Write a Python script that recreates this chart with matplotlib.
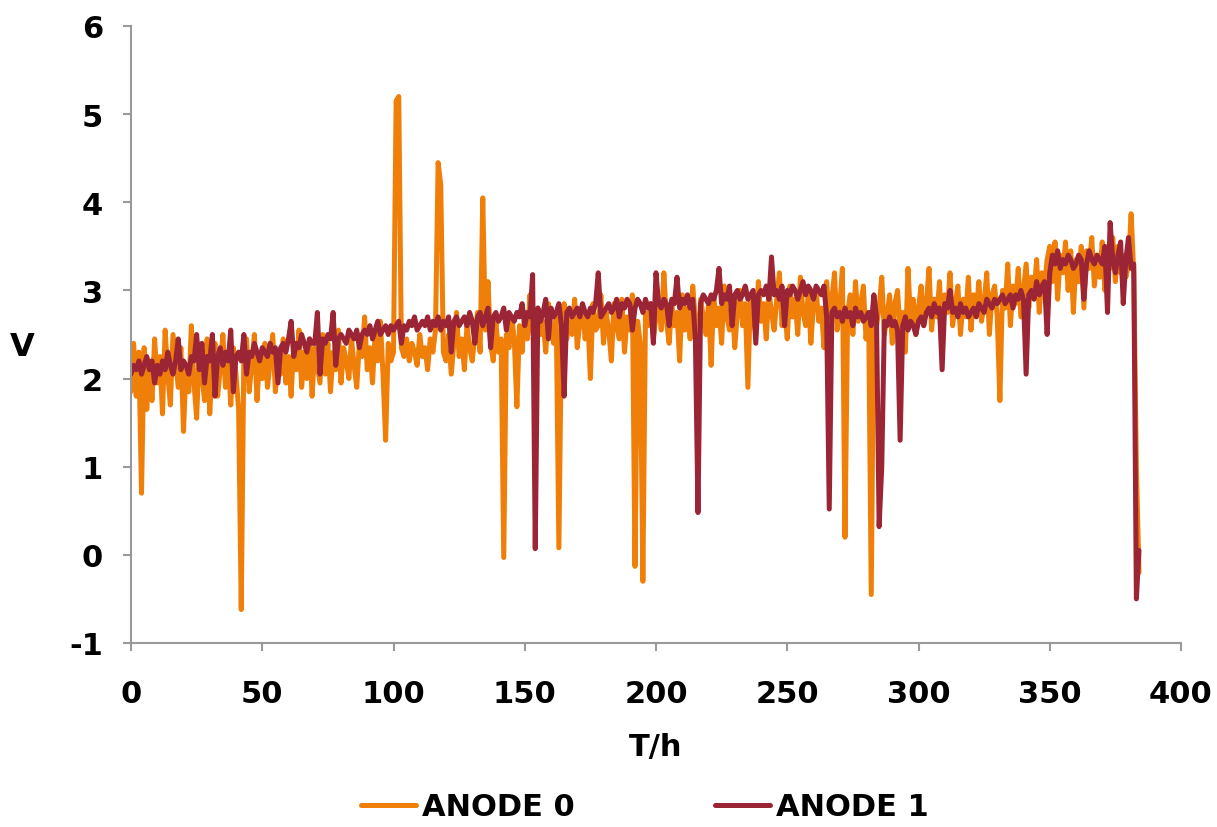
import numpy as np
import matplotlib.pyplot as plt

# ANODE 0 voltage, one reading per hour (0 .. 384 h)
anode0 = [
    1.85, 2.40, 1.80, 2.30, 0.70, 2.35, 1.65, 2.20, 1.75, 2.45,
    1.95, 2.25, 1.60, 2.55, 2.05, 1.70, 2.50, 2.20, 1.90, 2.35,
    1.40, 2.15, 1.85, 2.60, 1.95, 1.55, 2.30, 2.05, 1.75, 2.45,
    1.60, 2.20, 2.40, 1.80, 2.10, 2.50, 1.90, 2.25, 1.70, 2.35,
    2.05, 1.65, -0.62, 2.30, 2.45, 1.85, 2.15, 2.50, 1.75, 2.25,
    2.00, 2.40, 1.90, 2.20, 2.50, 1.85, 2.30, 2.05, 2.45, 1.95,
    2.25, 1.80, 2.40, 2.10, 2.55, 1.90, 2.30, 2.00, 2.45, 1.80,
    2.35, 2.15, 1.95, 2.50, 2.05, 2.40, 1.85, 2.30, 2.10, 2.55,
    1.95, 2.35, 2.20, 2.00, 2.45, 2.15, 1.90, 2.40, 2.25, 2.70,
    2.10, 2.35, 1.95, 2.50, 2.20, 2.65, 2.05, 1.30, 2.40, 2.20,
    2.30, 5.15, 5.20, 2.35, 2.25, 2.45, 2.20, 2.40, 2.30, 2.15,
    2.50, 2.25, 2.35, 2.10, 2.45, 2.30, 2.55, 4.45, 4.20, 2.30,
    2.20, 2.50, 2.05, 2.40, 2.75, 2.25, 2.45, 2.10, 2.60, 2.35,
    2.20, 2.50, 2.75, 2.30, 4.05, 2.55, 3.10, 2.40, 2.20, 2.65,
    2.30, 2.45, -0.03, 2.50, 2.35, 2.70, 2.45, 1.68, 2.60, 2.30,
    2.75, 2.45, 2.95, 2.55, 2.35, 2.80, 2.50, 2.65, 2.30, 2.85,
    2.55, 2.40, 2.70, 0.08, 2.60, 2.85, 2.45, 2.75, 2.50, 2.90,
    2.35, 2.65, 2.80, 2.45, 2.70, 2.00, 2.85, 2.55, 2.60, 2.95,
    2.40, 2.75, 2.55, 2.20, 2.85, 2.60, 2.45, 2.90, 2.30, 2.70,
    2.55, 2.95, -0.13, 2.65, 2.40, -0.30, 2.75, 2.60, 2.85, 2.45,
    2.70, 2.90, 2.55, 3.20, 2.65, 2.40, 2.85, 2.60, 2.75, 2.20,
    2.95, 2.55, 2.80, 2.45, 3.05, 2.65, 2.35, 2.90, 2.70, 2.50,
    2.85, 2.15, 2.95, 2.60, 2.80, 2.40, 3.05, 2.70, 2.55, 2.90,
    2.35, 2.75, 3.00, 2.60, 2.85, 1.90, 2.95, 2.70, 2.50, 3.10,
    2.65, 2.85, 2.45, 3.00, 2.75, 2.55, 2.90, 3.20, 2.60, 2.80,
    2.45, 3.05, 2.70, 2.90, 2.50, 3.15, 2.75, 2.60, 2.95, 2.40,
    2.85, 3.00, 2.65, 2.80, 2.35, 3.10, 2.70, 2.90, 3.20, 2.55,
    2.80, 3.25, 0.20, 2.75, 2.95, 2.50, 3.10, 2.65, 2.85, 3.05,
    2.45, 2.75, -0.45, 2.90, 2.60, 2.80, 3.15, 2.50, 2.70, 2.95,
    2.40, 2.85, 3.00, 2.55, 2.75, 2.30, 3.25, 2.65, 2.90, 2.50,
    2.80, 3.05, 2.60, 2.85, 3.25, 2.55, 2.90, 2.70, 3.10, 2.45,
    2.95, 2.75, 3.20, 2.60, 2.85, 3.05, 2.50, 2.90, 2.70, 3.15,
    2.55, 2.95, 2.75, 3.10, 2.65, 2.85, 3.20, 2.50, 2.95, 3.05,
    2.70, 1.75, 3.00, 2.80, 3.30, 2.60, 3.05, 2.85, 3.25, 2.70,
    3.00, 3.30, 2.80, 3.15, 2.95, 3.35, 2.75, 3.20, 3.05, 3.35,
    3.50, 3.10, 3.55, 2.90, 3.40, 3.20, 3.55, 3.00, 3.45, 2.75,
    3.35, 3.10, 3.50, 2.80, 3.45, 3.25, 3.60, 3.05, 3.40, 3.15,
    3.55, 3.00, 3.45, 3.25, 3.60, 3.10, 3.50, 3.20, 3.40, 3.15,
    3.30, 3.87, 3.20, 1.00, -0.20,
]

# ANODE 1 voltage, one reading per hour (0 .. 384 h)
anode1 = [
    2.05, 2.15, 2.10, 2.20, 2.05, 2.15, 2.25, 2.10, 2.20, 1.95,
    2.15, 2.05, 2.20, 2.10, 2.30, 2.15, 2.05, 2.20, 2.45, 2.10,
    2.20, 2.15, 2.05, 2.25, 2.20, 2.50, 2.10, 2.40, 1.95, 2.25,
    2.20, 2.50, 1.80, 2.25, 2.35, 2.15, 2.30, 2.20, 2.55, 1.85,
    2.25, 2.30, 2.20, 2.50, 2.05, 2.30, 2.25, 2.40, 2.30, 2.20,
    2.35, 2.30, 2.25, 2.40, 2.30, 2.35, 1.95, 2.35, 2.40, 2.30,
    2.45, 2.65, 2.25, 2.40, 2.35, 2.50, 2.40, 2.30, 2.45, 2.40,
    2.40, 2.75, 2.05, 2.45, 2.40, 2.50, 2.45, 2.75, 2.15, 2.45,
    2.50, 2.45, 2.40, 2.55, 2.50, 2.45, 2.55, 2.35, 2.50, 2.55,
    2.50, 2.60, 2.45, 2.55, 2.65, 2.50, 2.55, 2.60, 2.50, 2.60,
    2.55, 2.60, 2.65, 2.40, 2.60, 2.55, 2.65, 2.60, 2.70, 2.55,
    2.60, 2.65, 2.60, 2.70, 2.55, 2.65, 2.60, 2.70, 2.55, 2.65,
    2.60, 2.70, 2.30, 2.65, 2.70, 2.60, 2.65, 2.70, 2.60, 2.75,
    2.65, 2.40, 2.70, 2.75, 2.60, 2.70, 2.80, 2.35, 2.70, 2.75,
    2.65, 2.70, 2.80, 2.55, 2.75, 2.70, 2.65, 2.75, 2.70, 2.85,
    2.60, 2.75, 2.70, 3.18, 0.07, 2.80, 2.65, 2.75, 2.90, 2.45,
    2.80, 2.70, 2.75, 2.85, 2.60, 1.80, 2.75, 2.80, 2.70, 2.75,
    2.80, 2.70, 2.85, 2.75, 2.70, 2.80, 2.75, 2.85, 3.20, 2.70,
    2.75, 2.80, 2.85, 2.75, 2.80, 2.90, 2.70, 2.85, 2.80, 2.90,
    2.85, 2.55, 2.80, 2.90, 2.85, 2.75, 2.90, 2.80, 2.85, 2.40,
    3.20, 2.85, 2.80, 2.90, 2.85, 2.60, 2.90, 2.85, 3.15, 2.80,
    2.90, 2.85, 2.95, 2.80, 2.90, 2.45, 0.48, 2.85, 2.95, 2.90,
    2.85, 2.95, 2.90, 3.00, 3.25, 2.85, 2.95, 2.90, 3.05, 2.60,
    2.95, 3.00, 2.90, 2.95, 3.05, 2.90, 2.95, 3.00, 2.40, 2.95,
    3.00, 2.95, 3.05, 2.90, 3.38, 2.95, 3.00, 2.90, 3.05, 2.60,
    3.00, 2.95, 3.05, 3.00, 2.90, 3.00, 3.10, 2.95, 3.05, 3.00,
    2.90, 3.05, 3.00, 2.95, 3.05, 2.70, 0.52, 2.75, 2.80, 2.70,
    2.75, 2.65, 2.80, 2.70, 2.75, 2.60, 2.80, 2.70, 2.75, 2.65,
    2.70, 2.75, 2.60, 2.95, 2.70, 0.32, 1.00, 2.65, 2.60, 2.70,
    2.60, 2.65, 2.55, 1.30, 2.60, 2.70, 2.55, 2.65, 2.60, 2.50,
    2.65, 2.70, 2.60, 2.75, 2.80, 2.70, 2.85, 2.75, 2.80, 2.10,
    2.85, 2.80, 3.00, 2.75, 2.80, 2.70, 2.85, 2.75, 2.80, 2.70,
    2.75, 2.80, 2.70, 2.85, 2.80, 2.75, 2.90, 2.85, 2.80, 2.90,
    2.85, 2.90, 2.95, 2.85, 2.90, 2.95, 2.80, 2.95, 2.90, 3.00,
    2.90, 2.05, 2.95, 3.00, 2.90, 3.10, 2.95, 3.05, 3.10, 2.50,
    3.20, 3.40, 3.30, 3.45, 3.25, 3.35, 3.30, 3.40, 3.35, 3.25,
    3.30, 3.40, 3.35, 2.90, 3.30, 3.45, 3.35, 3.30, 3.40, 3.35,
    3.30, 3.50, 2.75, 3.77, 3.35, 3.20, 3.40, 3.55, 2.85, 3.35,
    3.60, 3.25, 3.30, -0.50, 0.05,
]

hours = np.arange(len(anode0))

plt.rcParams['font.family'] = ['DejaVu Sans']
plt.rcParams['font.weight'] = 'bold'
plt.rcParams['axes.unicode_minus'] = False

fig = plt.figure(figsize=(12.17, 8.28), dpi=100)
ax = fig.add_axes([131 / 1217, 1 - 644 / 828, 1050 / 1217, 617 / 828])

ax.plot(hours, anode0, color='#F07F09', lw=3.6, solid_joinstyle='round',
        solid_capstyle='round', label='ANODE 0')
ax.plot(hours, anode1, color='#9C2535', lw=3.6, solid_joinstyle='round',
        solid_capstyle='round', label='ANODE 1')

ax.set_xlim(0, 400)
ax.set_ylim(-1, 6)
ax.set_xticks(np.arange(0, 401, 50))
ax.set_yticks(np.arange(-1, 7, 1))

for side in ['top', 'right']:
    ax.spines[side].set_visible(False)
for side in ['left', 'bottom']:
    ax.spines[side].set_color('#999999')
    ax.spines[side].set_linewidth(1.5)

ax.tick_params(axis='x', direction='out', length=6, width=1.5, color='#999999',
               pad=20, labelsize=22)
ax.tick_params(axis='y', direction='out', length=6, width=1.5, color='#999999',
               pad=14, labelsize=22)
for lab in ax.get_xticklabels() + ax.get_yticklabels():
    lab.set_fontweight('bold')

fig.text(22 / 1217, 1 - 348 / 828, 'V', fontsize=23, fontweight='bold',
         ha='center', va='center')
fig.text(656 / 1217, 1 - 748 / 828, 'T/h', fontsize=22, fontweight='bold',
         ha='center', va='center')

fig.legend(loc='center', bbox_to_anchor=(645 / 1217, 1 - 808 / 828), ncol=2,
           frameon=False, handlelength=1.8, handletextpad=0.2,
           columnspacing=4.6, prop={'weight': 'bold', 'size': 22})

fig.savefig('out.png', dpi=100)
